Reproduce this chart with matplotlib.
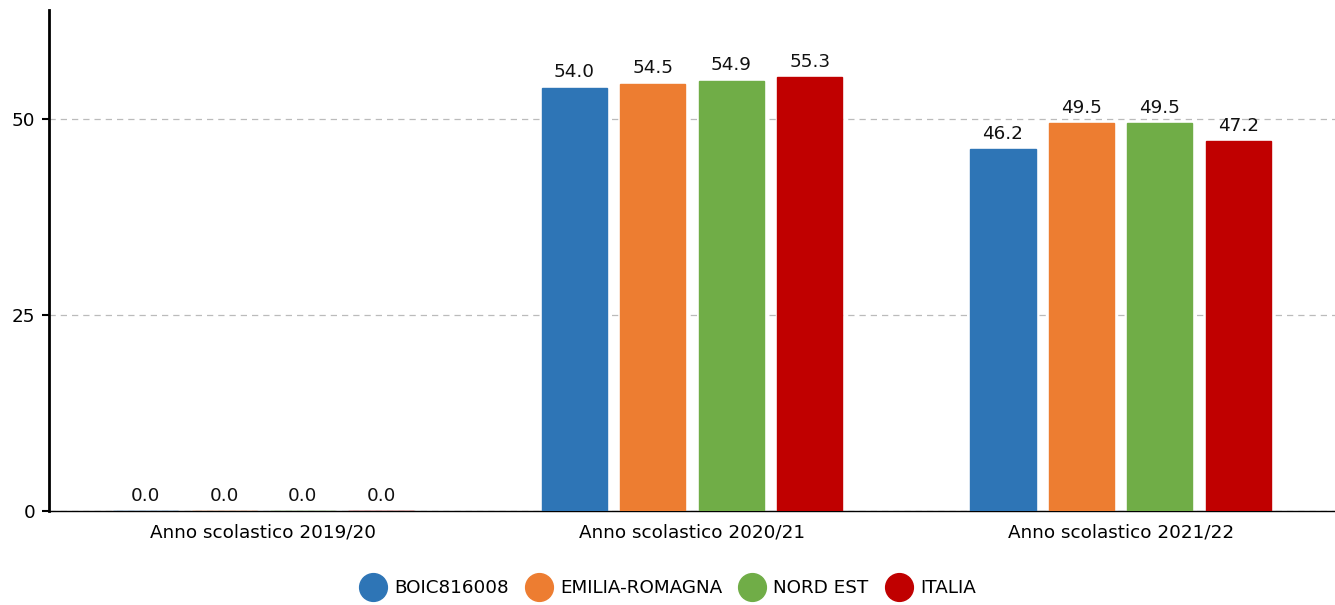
import matplotlib.pyplot as plt
import numpy as np
from matplotlib.lines import Line2D

plt.rcParams['font.family'] = ['DejaVu Sans']

categories = ['Anno scolastico 2019/20', 'Anno scolastico 2020/21', 'Anno scolastico 2021/22']
series_names = ['BOIC816008', 'EMILIA-ROMAGNA', 'NORD EST', 'ITALIA']
values = {
    'BOIC816008': [0.0, 54.0, 46.2],
    'EMILIA-ROMAGNA': [0.0, 54.5, 49.5],
    'NORD EST': [0.0, 54.9, 49.5],
    'ITALIA': [0.0, 55.3, 47.2],
}
colors = ['#2e75b6', '#ed7d31', '#70ad47', '#c00000']

fs = 13.2

fig = plt.figure(figsize=(13.35, 6.05), dpi=100)
ax = fig.add_axes([49 / 1335, (605 - 511) / 605, (1335 - 49) / 1335, (511 - 10) / 605])

x = np.arange(len(categories))
step = 0.183
width = 0.152
for i, name in enumerate(series_names):
    pos = x + (i - 1.5) * step
    vals = values[name]
    ax.bar(pos, vals, width, color=colors[i], edgecolor=colors[i], linewidth=1.0, zorder=3)
    for p, v in zip(pos, vals):
        ax.text(p, v + 0.8, f'{v:.1f}', ha='center', va='bottom', fontsize=fs, color='#111111', zorder=4)

ax.set_xlim(-0.5, 2.5)
ax.set_ylim(0, 63.9)
ax.set_yticks([0, 25, 50])
ax.set_xticks(x)
ax.set_xticklabels(categories, fontsize=fs)
ax.tick_params(axis='x', length=0, pad=9)
ax.tick_params(axis='y', length=5, width=1.5, labelsize=fs, pad=5)
ax.yaxis.grid(True, linestyle=(0, (5, 4)), color='#bbbbbb', linewidth=0.9, zorder=0)
ax.set_axisbelow(True)
for s in ['top', 'right']:
    ax.spines[s].set_visible(False)
ax.spines['left'].set_linewidth(2)
ax.spines['bottom'].set_linewidth(1.0)
ax.spines['bottom'].set_zorder(2)

handles = [Line2D([], [], marker='o', linestyle='', markersize=20, color=c) for c in colors]
fig.legend(handles, series_names, loc='center', bbox_to_anchor=(0.5, (605 - 588) / 605), ncol=4,
           frameon=False, fontsize=fs, handletextpad=0.4, columnspacing=0.9, handlelength=1.5)

fig.savefig('out.png', dpi=100)
